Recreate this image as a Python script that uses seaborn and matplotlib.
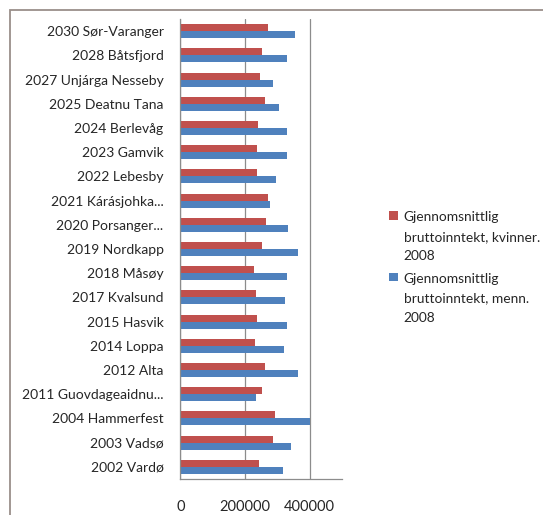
import pandas as pd
import matplotlib.pyplot as plt
import seaborn as sns
from matplotlib.patches import Rectangle

# data (NOK, 2008)
kommuner = [
    "2030 Sør-Varanger", "2028 Båtsfjord", "2027 Unjárga Nesseby",
    "2025 Deatnu Tana", "2024 Berlevåg", "2023 Gamvik", "2022 Lebesby",
    "2021 Kárásjohka...", "2020 Porsanger...", "2019 Nordkapp",
    "2018 Måsøy", "2017 Kvalsund", "2015 Hasvik", "2014 Loppa",
    "2012 Alta", "2011 Guovdageaidnu...", "2004 Hammerfest",
    "2003 Vadsø", "2002 Vardø",
]
kvinner = [270000, 251000, 246000, 261000, 241000, 238000, 238000,
           270000, 265000, 251000, 229000, 235000, 238000, 231000,
           263000, 251000, 292000, 286000, 242000]
menn = [355000, 329000, 287000, 306000, 331000, 329000, 295000,
        278000, 334000, 365000, 331000, 324000, 329000, 320000,
        365000, 235000, 401000, 341000, 318000]

serie_k = "Gjennomsnittlig\nbruttoinntekt, kvinner.\n2008"
serie_m = "Gjennomsnittlig\nbruttoinntekt, menn.\n2008"

df = pd.DataFrame({
    "Kommune": kommuner * 2,
    "Inntekt": kvinner + menn,
    "Serie": [serie_k] * len(kommuner) + [serie_m] * len(kommuner),
})

sns.set_style("white")
plt.rcParams['font.family'] = ['Lato', 'DejaVu Sans']

fig = plt.figure(figsize=(5.43, 5.15), dpi=100)
ax = fig.add_axes([0.332, 0.07, 0.298, 0.893])

sns.barplot(
    data=df, x="Inntekt", y="Kommune", hue="Serie",
    order=kommuner, hue_order=[serie_k, serie_m],
    palette=["#C0504D", "#4F81BD"], width=0.58,
    orient="h", errorbar=None, linewidth=0, saturation=1, ax=ax,
)

# outer chart frame
fig.patches.append(Rectangle((10 / 543, -0.1), 1.2, 1.1 - 10 / 515,
                             transform=fig.transFigure, fill=False,
                             edgecolor="#9a8f8a", linewidth=1.3))

ax.set_xlim(0, 500000)
ax.set_xticks([0, 200000, 400000])
ax.set_xticklabels(["0", "200000", "400000"], fontsize=10.5)
ax.xaxis.grid(True, color="#8c8c8c", linewidth=0.9)
ax.set_axisbelow(True)

# category tick marks between the groups, labels in the middle
n = len(kommuner)
ax.set_yticks([i - 0.5 for i in range(n + 1)], minor=False)
ax.set_yticklabels([])
ax.set_yticks(range(n), minor=True)
ax.set_yticklabels(kommuner, minor=True, fontsize=10)
ax.tick_params(axis="y", which="minor", length=0, pad=12)
ax.tick_params(axis="y", which="major", length=5, color="#8c8c8c", width=0.9)
ax.tick_params(axis="x", length=5, color="#8c8c8c", width=0.9, pad=10)
ax.set_ylim(n - 0.5, -0.5)

ax.set_xlabel("")
ax.set_ylabel("")
for side in ["top", "right"]:
    ax.spines[side].set_visible(False)
for side in ["left", "bottom"]:
    ax.spines[side].set_color("#8c8c8c")
    ax.spines[side].set_linewidth(0.9)

leg = ax.legend(loc="upper left", bbox_to_anchor=(377 / 543, 1 - 199 / 515),
                bbox_transform=fig.transFigure, frameon=False,
                fontsize=9.9, handlelength=0.6, handleheight=0.6,
                handletextpad=0.45, labelspacing=0.75, alignment="left")
for t in leg.get_texts():
    t.set_linespacing(1.75)
# put the colour square next to the first line of each entry
for col in leg._legend_handle_box.get_children():
    for row in col.get_children():
        row.align = "top"

fig.savefig("out.png", dpi=100)
